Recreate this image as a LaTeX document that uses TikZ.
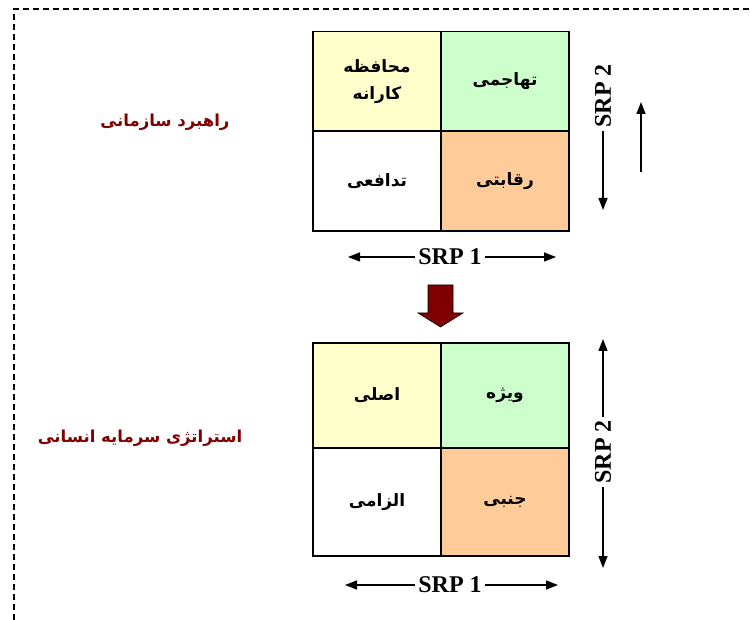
\documentclass[tikz,border=0pt]{standalone}
\usepackage{xcolor}
\usepackage{fontspec}
\setmainfont{Liberation Serif}
\newfontfamily\farsi[Script=Arabic]{DejaVu Sans}
\TeXXeTstate=1
\usepackage{tikz}
\usetikzlibrary{arrows.meta}
\usetikzlibrary{positioning}
\definecolor{cellyellow}{HTML}{FFFFCC}
\definecolor{cellgreen}{HTML}{CCFFCC}
\definecolor{cellpeach}{HTML}{FFCC99}
\definecolor{titlered}{HTML}{7F0000}
\newcommand{\fa}[1]{\beginR #1\endR}
\tikzset{cell/.style={draw=black, line width=1.4pt, minimum width=128pt, inner sep=0pt, align=center, font=\farsi\bfseries\fontsize{17}{27}\selectfont}}
\tikzset{srp/.style={font=\bfseries\fontsize{24}{24}\selectfont, inner sep=3pt}}
\tikzset{titletext/.style={font=\farsi\bfseries\fontsize{16.5}{20}\selectfont, text=titlered}}

\begin{document}
\begin{tikzpicture} [x=1pt, y=-1pt, >={Triangle[length=12pt,width=9pt]}]
\useasboundingbox (0,0) rectangle (750,620);
\draw[black, line width=1.3pt, dash pattern=on 6pt off 4pt] (14,620)--(14,9)--(750,9);
\node[titletext] (orgTitle) at (165,122) {\fa{راهبرد سازمانی}};
\node[titletext] (hrTitle) at (140,438) {\fa{استراتژی سرمایه انسانی}};
\node[cell, minimum height=99.5pt, fill=cellyellow] (consA) at (377,81.5) {\fa{محافظه}\\\fa{کارانه}};
\node[cell, minimum height=99.5pt, fill=cellgreen] (attkA) at (505,81.5) {\fa{تهاجمی}};
\node[cell, minimum height=100pt, fill=white] (defnA) at (377,181) {\fa{تدافعی}};
\node[cell, minimum height=100pt, fill=cellpeach] (compA) at (505,181) {\fa{رقابتی}};
\node[srp] (srpOneA) at (450,257) {SRP 1};
\coordinate (leftA) at (348,257);
\coordinate (rightA) at (556,257);
\draw[black, line width=1.4pt, ->] (srpOneA.west)--(leftA);
\draw[black, line width=1.4pt, ->] (srpOneA.east)--(rightA);
\node[srp, rotate=90] (srpTwoA) at (603,96) {SRP 2};
\coordinate (downA) at (603,210);
\draw[black, line width=1.4pt, ->] (srpTwoA.west)--(downA);
\coordinate (upFoot) at (641,172);
\coordinate (upTip) at (641,102);
\draw[black, line width=1.4pt, ->] (upFoot)--(upTip);
\filldraw[draw=black, line width=0.6pt, fill=titlered] (428,285)--(453,285)--(453,313)--(463,313)--(440.5,327)--(418,313)--(428,313)--cycle;
\node[cell, minimum height=105pt, fill=cellyellow] (mainB) at (377,395.5) {\fa{اصلی}};
\node[cell, minimum height=105pt, fill=cellgreen] (specB) at (505,395.5) {\fa{ویژه}};
\node[cell, minimum height=108pt, fill=white] (reqB) at (377,502) {\fa{الزامی}};
\node[cell, minimum height=108pt, fill=cellpeach] (sideB) at (505,502) {\fa{جنبی}};
\node[srp] (srpOneB) at (450,585) {SRP 1};
\coordinate (leftB) at (345,585);
\coordinate (rightB) at (558,585);
\draw[black, line width=1.4pt, ->] (srpOneB.west)--(leftB);
\draw[black, line width=1.4pt, ->] (srpOneB.east)--(rightB);
\node[srp, rotate=90] (srpTwoB) at (603,452) {SRP 2};
\coordinate (upB) at (603,339);
\coordinate (downB) at (603,568);
\draw[black, line width=1.4pt, ->] (srpTwoB.east)--(upB);
\draw[black, line width=1.4pt, ->] (srpTwoB.west)--(downB);
\end{tikzpicture}
\end{document}
